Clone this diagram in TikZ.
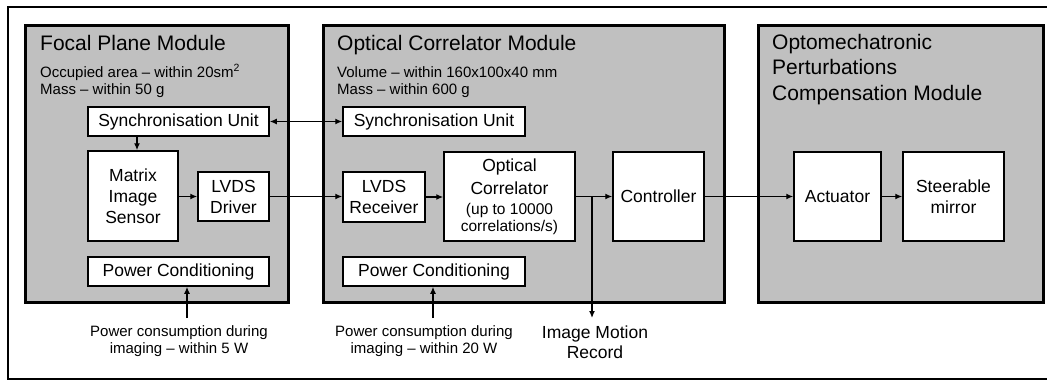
\documentclass[tikz,border=0pt]{standalone}
\usepackage{fontspec}
\setmainfont{Liberation Sans}
\usetikzlibrary{arrows.meta,calc}
\definecolor{modgray}{RGB}{192,192,192}
\newcommand\bfnt{\fontsize{17.5}{21}\selectfont}
\newcommand\sfnt{\fontsize{15.5}{17}\selectfont}
\newcommand\nfnt{\fontsize{15}{17}\selectfont}
\begin{document}
\begin{tikzpicture}[x=1pt,y=-1pt,
  module/.style={draw=black,fill=modgray,line width=3pt},
  box/.style={draw=black,fill=white,line width=1.5pt,inner sep=0pt,align=center,font=\bfnt},
  title/.style={anchor=base west,inner sep=0pt,font=\fontsize{21}{25}\selectfont},
  sub/.style={anchor=base west,inner sep=0pt,font=\fontsize{15}{17}\selectfont},
  note/.style={anchor=base,inner sep=0pt,font=\nfnt},
  big/.style={anchor=base,inner sep=0pt,font=\bfnt},
  arr/.style={line width=1.3pt,-{Latex[length=7pt,width=6pt]}},
  darr/.style={line width=1.3pt,{Latex[length=7pt,width=6pt]}-{Latex[length=7pt,width=6pt]}}]
\useasboundingbox (0,0) rectangle (1047,380);
% outer frame
\draw[line width=2pt] (1047,7) -- (8,7) -- (8,378.5) -- (1047,378.5);
% modules
\draw[module] (25,25) rectangle (288,302);
\draw[module] (323,25) rectangle (724,302);
\draw[module] (758,25) rectangle (1043,302);
% titles
\node[title] (t1) at (40,50) {Focal Plane Module};
\node[sub] (t1a) at (40,77) {Occupied area – within 20sm\textsuperscript{2}};
\node[sub] (t1b) at (40,94) {Mass – within 50 g};
\node[title] (t2) at (337,50) {Optical Correlator Module};
\node[sub] (t2a) at (337,77) {Volume – within 160x100x40 mm};
\node[sub] (t2b) at (337,94) {Mass – within 600 g};
\node[title] (t3a) at (772,49) {Optomechatronic};
\node[title] (t3b) at (772,74) {Perturbations};
\node[title] (t3c) at (772,100) {Compensation Module};
% boxes
\node[box,minimum width=181pt,minimum height=29pt] (fsync) at (178.5,121.5) {Synchronisation Unit};
\node[box,minimum width=90pt,minimum height=90pt] (matrix) at (133,196) {Matrix\\Image\\Sensor};
\node[box,minimum width=71pt,minimum height=49pt] (ldrv) at (233.5,196.5) {LVDS\\Driver};
\node[box,minimum width=181pt,minimum height=29pt] (fpow) at (178.5,271.5) {Power Conditioning};
\node[box,minimum width=182pt,minimum height=29pt] (osync) at (434,121.5) {Synchronisation Unit};
\node[box,minimum width=82pt,minimum height=50pt] (lrcv) at (384,197) {LVDS\\Receiver};
\node[box,minimum width=131pt,minimum height=89pt] (ocor) at (509.5,196.5) {Optical\\[2pt]Correlator\\[-1pt]\sfnt (up to 10000\\[-4pt]\sfnt correlations/s)};
\node[box,minimum width=91pt,minimum height=89pt] (ctrl) at (658.5,196.5) {Controller};
\node[box,minimum width=182pt,minimum height=29pt] (opow) at (434,271.5) {Power Conditioning};
\node[box,minimum width=87pt,minimum height=89pt] (act) at (837.5,196.5) {Actuator};
\node[box,minimum width=101pt,minimum height=89pt] (mirror) at (953.5,196.5) {Steerable\\mirror};
% bottom texts
\node[note] (p1a) at (179,336) {Power consumption during};
\node[note] (p1b) at (179,353) {imaging – within 5 W};
\node[note] (p2a) at (424,336) {Power consumption during};
\node[note] (p2b) at (424,353) {imaging – within 20 W};
\node[big] (imr1) at (595,338) {Image Motion};
\node[big] (imr2) at (595,358) {Record};
% connectors
\coordinate (sdn) at (137,136);
\coordinate (p1s) at (187,318);
\coordinate (p2s) at (433,318);
\coordinate (br) at (592,196);
\coordinate (bre) at (592,318);
\draw[darr] (fsync.east) -- (osync.west);
\draw[arr] (sdn) -- (sdn |- matrix.north);
\draw[arr] (matrix.east |- ldrv) -- (ldrv.west);
\draw[arr] (ldrv.east) -- (ldrv.east -| lrcv.west);
\draw[arr] (lrcv.east) -- (lrcv.east -| ocor.west);
\draw[arr] (ocor.east) -- (ctrl.west);
\draw[arr] (ctrl.east) -- (act.west);
\draw[arr] (act.east) -- (mirror.west);
\draw[arr] (br) -- (bre);
\draw[arr] (p1s) -- (p1s |- fpow.south);
\draw[arr] (p2s) -- (p2s |- opow.south);
\end{tikzpicture}
\end{document}
